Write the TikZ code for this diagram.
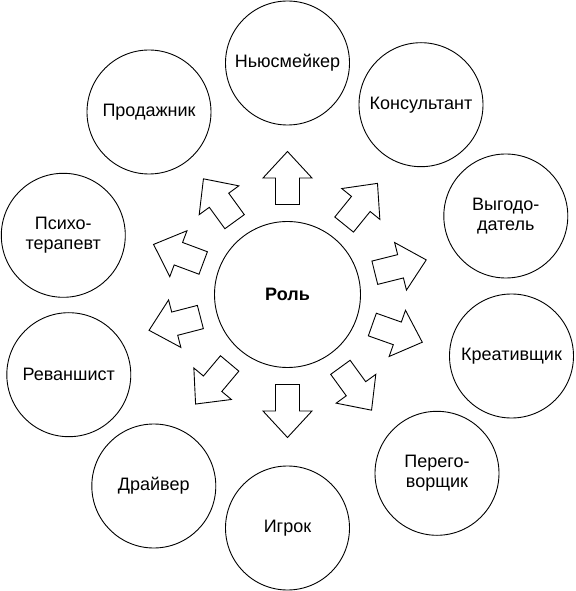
\documentclass[tikz,border=0pt]{standalone}
\usepackage{fontspec}
\setmainfont{Liberation Sans}
\begin{document}
\begin{tikzpicture}[x=1pt,y=1pt,
  rolecircle/.style={circle, draw, line width=0.9pt, minimum size=124pt, inner sep=0pt, align=center,
    font=\fontsize{18}{20}\selectfont},
  centercircle/.style={circle, draw, line width=0.9pt, minimum size=146pt, inner sep=0pt,
    font=\fontsize{18}{20}\selectfont\bfseries},
  arrowshape/.style={draw, line width=0.9pt, line join=miter, fill=white}]
\useasboundingbox (-287.5,-296.5) rectangle (287.5,294.5);
\node[centercircle] (role) at (0,0) {Роль};
\node[rolecircle] (news) at (0,231.5) {Ньюсмейкер};
\node[rolecircle] (cons) at (133.5,189.8) {Консультант};
\node[rolecircle] (vyg) at (218.3,78.5) {Выгодо-\\датель};
\node[rolecircle] (krea) at (224,-61.5) {Креативщик};
\node[rolecircle] (pere) at (149.5,-178.8) {Перего-\\ворщик};
\node[rolecircle] (igrok) at (0,-233.5) {Игрок};
\node[rolecircle] (drive) at (-133.7,-191.5) {Драйвер};
\node[rolecircle] (revan) at (-218.7,-80.2) {Реваншист};
\node[rolecircle] (psych) at (-224.2,59.2) {Психо-\\терапевт};
\node[rolecircle] (prod) at (-138.5,182.5) {Продажник};
\foreach \a in {90,51,14,-19.5,-54,-90,-130,194.5,159.5,126}{
  \draw[arrowshape, rotate=\a] (90,-12) -- (116.5,-12) -- (116.5,-24.5) -- (143,0)
    -- (116.5,24.5) -- (116.5,12) -- (90,12) -- cycle;
}
\end{tikzpicture}
\end{document}
